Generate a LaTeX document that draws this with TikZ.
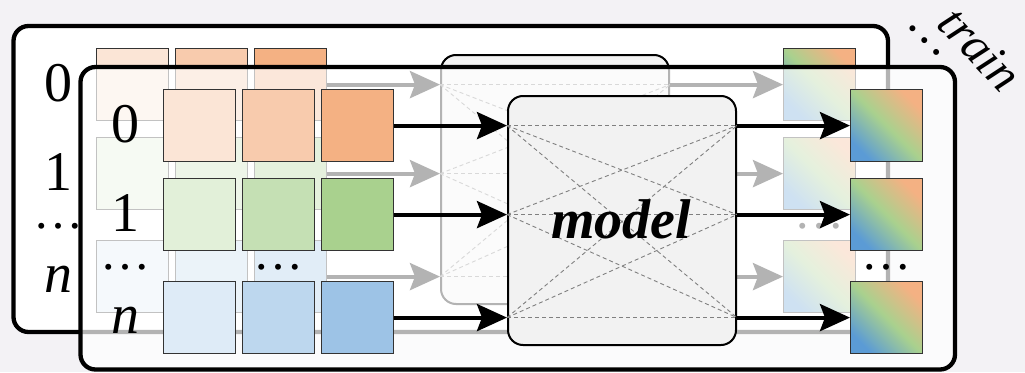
\documentclass[tikz,border=0pt]{standalone}
\usepackage{fontspec}
\setmainfont{Liberation Serif}
\usetikzlibrary{arrows.meta}
\definecolor{bgc}{RGB}{243,242,245}
\definecolor{o1}{HTML}{FBE5D6}\definecolor{o2}{HTML}{F8CBAD}\definecolor{o3}{HTML}{F4B183}
\definecolor{g1}{HTML}{E2F0D9}\definecolor{g2}{HTML}{C5E0B4}\definecolor{g3}{HTML}{A9D18E}
\definecolor{b1}{HTML}{DEEBF7}\definecolor{b2}{HTML}{BDD7EE}\definecolor{b3}{HTML}{9DC3E6}
\definecolor{gb}{HTML}{5B9BD5}\definecolor{gg}{HTML}{A9D18E}\definecolor{go}{HTML}{F4B183}
\definecolor{modelfill}{HTML}{F2F2F2}
\tikzset{
  cell/.style={draw=black!80, line width=1.2pt, minimum width=71.5pt, minimum height=72pt, inner sep=0pt, anchor=north west},
  outcell/.style={cell, left color=gb, right color=go, middle color=gg, shading angle=135},
  lbl/.style={font=\fontsize{56}{60}\selectfont, inner sep=0pt},
  dotlbl/.style={font=\fontsize{50}{50}\selectfont, inner sep=0pt},
  flow/.style={line width=4pt, -{Stealth[length=30pt,width=27pt,inset=5pt]}},
  mbox/.style={draw=black, line width=2pt, fill=modelfill, rounded corners=15pt, minimum width=228pt, minimum height=249pt, inner sep=0pt, anchor=north west},
  wire/.style={draw=black!50, dash pattern=on 4pt off 3pt, line width=0.9pt},
  frame/.style={line width=4.3pt, rounded corners=15pt},
}
\newcommand\panelcontent[1]{%
  \foreach \r/\y/\c in {0/89/o,1/178/g,n/281/b}{
    \node[cell, fill=\c1] (#1-s\r1) at (163,\y) {};
    \node[cell, fill=\c2] (#1-s\r2) at (242,\y) {};
    \node[cell, fill=\c3] (#1-s\r3) at (321,\y) {};
    \node[outcell] (#1-o\r) at (850,\y) {};
  }
  \node[mbox] (#1-m) at (507,95) {};
  \foreach \i in {0,1,n}{
    \foreach \j in {0,1,n}{
      \draw[wire] (#1-s\i3.east -| #1-m.west) -- (#1-o\j.west -| #1-m.east);
    }
  }
  \foreach \r in {0,1,n}{
    \draw[flow] (#1-s\r3.east) -- (#1-s\r3.east -| #1-m.west);
    \draw[flow] (#1-o\r.west -| #1-m.east) -- (#1-o\r.west);
  }
  \node[lbl] (#1-l0) at (125,124) {0};
  \node[lbl] (#1-l1) at (125,213) {1};
  \node[dotlbl] (#1-ld) at (125,267) {…};
  \node[lbl] (#1-ln) at (125,320) {\itshape n};
  \node[dotlbl] (#1-cd) at (278,267) {…};
  \node[dotlbl] (#1-od) at (886,267) {…};
}
\begin{document}
\begin{tikzpicture}[x=1pt,y=-1pt]
  \fill[bgc] (0,0) rectangle (1025,372);
  \useasboundingbox (0,0) rectangle (1025,372);
  % back panel
  \draw[frame, fill=white] (13.5,26) rectangle (888,332);
  \begin{scope}[shift={(-67,-41)}]
    \panelcontent{bk}
  \end{scope}
  % front panel
  \draw[frame, fill=white, fill opacity=0.7] (80.5,67) rectangle (955,369.5);
  \panelcontent{fr}
  \node[font=\fontsize{56}{60}\selectfont\bfseries\itshape, inner sep=0pt] (fr-mt) at (621,219) {model};
  % stack hint
  \node[dotlbl, rotate=-45] (more) at (925,41) {…};
  \node[font=\fontsize{49}{49}\selectfont\itshape, rotate=-47, inner sep=0pt] (train) at (980,49) {train};
\end{tikzpicture}
\end{document}
